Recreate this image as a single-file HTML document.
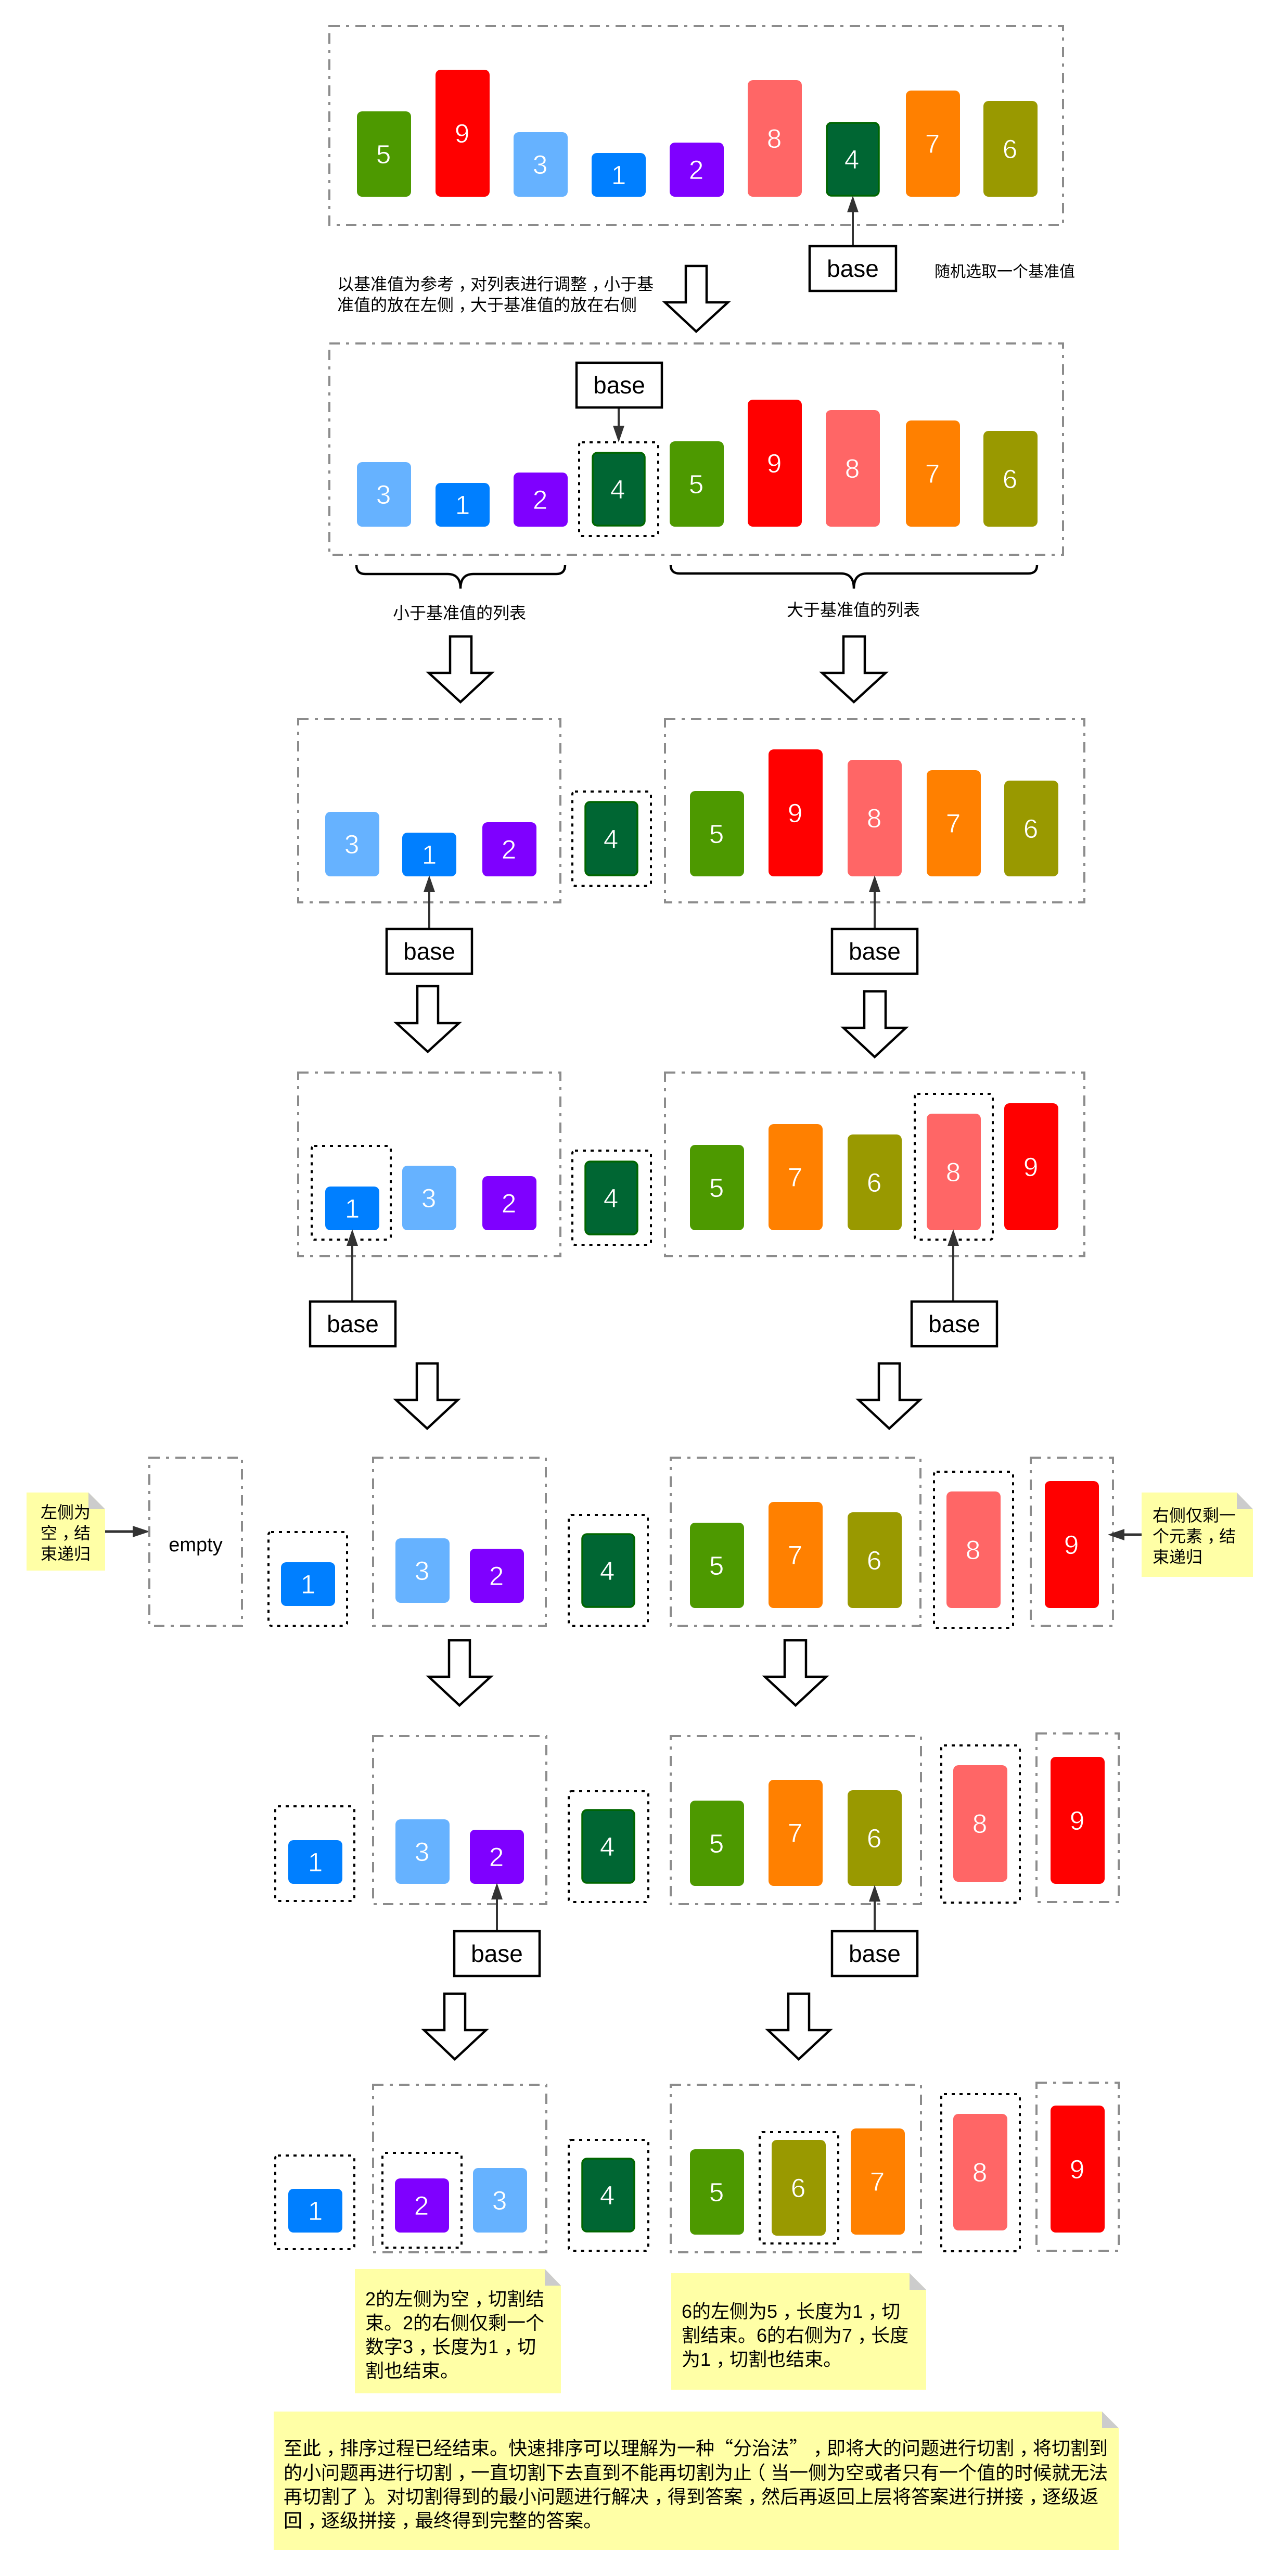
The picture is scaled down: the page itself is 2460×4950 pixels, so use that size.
<!DOCTYPE html>
<html><head><meta charset="utf-8"><style>
html,body{margin:0;padding:0;background:#fff}
svg{display:block}
text{font-family:"Liberation Sans","Noto Sans CJK SC",sans-serif}
.d{font-size:51px;fill:#fff;text-anchor:middle;stroke-width:.7}
.t{font-size:46px;fill:#000;text-anchor:middle}
.s{font-size:32px;fill:#000}
.n{font-size:36px;fill:#000}
.q{font-family:"Noto Sans CJK SC",sans-serif}
.f{fill:none;stroke:#8c8c8c;stroke-width:4;stroke-dasharray:20 12 6 12}
.o{fill:none;stroke:#000;stroke-width:4;stroke-dasharray:6 9}
.g{fill:#4d9900}.r{fill:#f00}.l{fill:#66b2ff}.u{fill:#007fff}.p{fill:#7f00ff}.k{fill:#f66}.y{fill:#ff8000}.v{fill:#990}
.g+text{stroke:#4d9900}.r+text{stroke:#f00}.l+text{stroke:#66b2ff}.u+text{stroke:#007fff}.p+text{stroke:#7f00ff}.k+text{stroke:#f66}.y+text{stroke:#ff8000}.v+text{stroke:#990}.h+text{stroke:#063}
.h{fill:#063;stroke:#060;stroke-width:3.5}
.x{fill:#fff;stroke:#000;stroke-width:4.5}
.a{fill:#fff;stroke:#000;stroke-width:4.5;stroke-miterlimit:10}
.m{stroke:#333;stroke-width:4;fill:none}
.ah{fill:#333}
.ny{fill:#ffffa6}.nf{fill:#ccc}
</style></head><body>
<svg xmlns="http://www.w3.org/2000/svg" width="2460" height="4950" viewBox="0 0 2460 4950">
<rect width="2460" height="4950" fill="#fff"/>

<!-- Row 1 -->
<rect class="f" x="633" y="50" width="1410" height="382"/>
<rect class="g" x="686" y="214" width="104" height="164" rx="10"/><text class="d" x="737" y="314">5</text>
<rect class="r" x="837" y="134" width="104" height="244" rx="10"/><text class="d" x="888" y="274">9</text>
<rect class="l" x="987" y="254" width="104" height="124" rx="10"/><text class="d" x="1038" y="334">3</text>
<rect class="u" x="1137" y="294" width="104" height="84" rx="10"/><text class="d" x="1189" y="354">1</text>
<rect class="p" x="1287" y="274" width="104" height="104" rx="10"/><text class="d" x="1338" y="344">2</text>
<rect class="k" x="1437" y="154" width="104" height="224" rx="10"/><text class="d" x="1488" y="284">8</text>
<rect class="h" x="1589" y="236" width="100" height="140" rx="9"/><text class="d" x="1637" y="324">4</text>
<rect class="y" x="1741" y="174" width="104" height="204" rx="10"/><text class="d" x="1792" y="294">7</text>
<rect class="v" x="1890" y="194" width="104" height="184" rx="10"/><text class="d" x="1941" y="304">6</text>
<line class="m" x1="1639" y1="473" x2="1639" y2="400"/><polygon class="ah" points="1639,376 1650,408 1628,408"/>
<rect class="x" x="1556" y="473" width="166" height="86"/><text class="t" x="1639" y="532">base</text>
<text x="1796" y="532" style="font-size:30px">随机选取一个基准值</text>
<text class="s" x="648" y="557">以基准值为参考<tspan dx="9">，</tspan><tspan dx="-9">对</tspan>列表进行调整<tspan dx="9">，</tspan><tspan dx="-9">小</tspan>于基</text>
<text class="s" x="648" y="597">准值的放在左侧<tspan dx="9">，</tspan><tspan dx="-9">大</tspan>于基准值的放在右侧</text>
<polygon class="a" points="1318,511 1358,511 1358,581 1399,581 1338,637 1278,581 1318,581"/>

<!-- Row 2 -->
<rect class="f" x="633" y="660" width="1410" height="406"/>
<rect class="l" x="686" y="888" width="104" height="124" rx="10"/><text class="d" x="737" y="968">3</text>
<rect class="u" x="837" y="928" width="104" height="84" rx="10"/><text class="d" x="889" y="988">1</text>
<rect class="p" x="987" y="908" width="104" height="104" rx="10"/><text class="d" x="1038" y="978">2</text>
<rect class="o" x="1113" y="850" width="152" height="180" rx="5"/>
<rect class="h" x="1139" y="870" width="100" height="140" rx="9"/><text class="d" x="1187" y="958">4</text>
<rect class="g" x="1287" y="848" width="104" height="164" rx="10"/><text class="d" x="1338" y="948">5</text>
<rect class="r" x="1437" y="768" width="104" height="244" rx="10"/><text class="d" x="1488" y="908">9</text>
<rect class="k" x="1587" y="788" width="104" height="224" rx="10"/><text class="d" x="1638" y="918">8</text>
<rect class="y" x="1741" y="808" width="104" height="204" rx="10"/><text class="d" x="1792" y="928">7</text>
<rect class="v" x="1890" y="828" width="104" height="184" rx="10"/><text class="d" x="1941" y="938">6</text>
<line class="m" x1="1189" y1="784" x2="1189" y2="825"/><polygon class="ah" points="1189,850 1178,818 1200,818"/>
<rect class="x" x="1108" y="697" width="164" height="86"/><text class="t" x="1190" y="756">base</text>
<path d="M685 1086 Q685 1103 702 1103 L860 1103 Q885 1103 885 1131 Q885 1103 910 1103 L1069 1103 Q1086 1103 1086 1086" fill="none" stroke="#000" stroke-width="4.5"/>
<path d="M1289 1086 Q1289 1102 1306 1102 L1616 1102 Q1641 1102 1641 1131 Q1641 1102 1666 1102 L1976 1102 Q1993 1102 1993 1086" fill="none" stroke="#000" stroke-width="4.5"/>
<text class="s" x="755" y="1189">小于基准值的列表</text>
<text class="s" x="1512" y="1183">大于基准值的列表</text>
<polygon class="a" points="865,1223 906,1223 906,1293 945,1293 885,1349 824,1293 865,1293"/>
<polygon class="a" points="1621,1223 1662,1223 1662,1293 1702,1293 1641,1349 1580,1293 1621,1293"/>

<!-- Row 3 -->
<rect class="f" x="573" y="1382" width="504" height="352"/>
<rect class="f" x="1278" y="1382" width="806" height="352"/>
<rect class="l" x="625" y="1560" width="104" height="124" rx="10"/><text class="d" x="676" y="1640">3</text>
<rect class="u" x="773" y="1600" width="104" height="84" rx="10"/><text class="d" x="825" y="1660">1</text>
<rect class="p" x="927" y="1580" width="104" height="104" rx="10"/><text class="d" x="978" y="1650">2</text>
<rect class="o" x="1100" y="1521" width="151" height="181" rx="5"/>
<rect class="h" x="1125" y="1541" width="100" height="141" rx="9"/><text class="d" x="1174" y="1630">4</text>
<rect class="g" x="1326" y="1520" width="104" height="164" rx="10"/><text class="d" x="1377" y="1620">5</text>
<rect class="r" x="1477" y="1440" width="104" height="244" rx="10"/><text class="d" x="1528" y="1580">9</text>
<rect class="k" x="1629" y="1460" width="104" height="224" rx="10"/><text class="d" x="1680" y="1590">8</text>
<rect class="y" x="1781" y="1480" width="104" height="204" rx="10"/><text class="d" x="1832" y="1600">7</text>
<rect class="v" x="1930" y="1500" width="104" height="184" rx="10"/><text class="d" x="1981" y="1610">6</text>
<line class="m" x1="825" y1="1785" x2="825" y2="1705"/><polygon class="ah" points="825,1682 836,1714 814,1714"/>
<line class="m" x1="1681" y1="1785" x2="1681" y2="1705"/><polygon class="ah" points="1681,1682 1692,1714 1670,1714"/>
<rect class="x" x="743" y="1785" width="164" height="86"/><text class="t" x="825" y="1844">base</text>
<rect class="x" x="1599" y="1785" width="164" height="86"/><text class="t" x="1681" y="1844">base</text>
<polygon class="a" points="802,1895 842,1895 842,1966 882,1966 822,2021 762,1966 802,1966"/>
<polygon class="a" points="1661,1905 1702,1905 1702,1975 1741,1975 1681,2031 1621,1975 1661,1975"/>

<!-- Row 4 -->
<rect class="f" x="573" y="2061" width="504" height="353"/>
<rect class="f" x="1278" y="2061" width="806" height="353"/>
<rect class="o" x="599" y="2202" width="152" height="180" rx="5"/>
<rect class="u" x="625" y="2280" width="104" height="84" rx="10"/><text class="d" x="677" y="2340">1</text>
<rect class="l" x="773" y="2240" width="104" height="124" rx="10"/><text class="d" x="824" y="2320">3</text>
<rect class="p" x="927" y="2260" width="104" height="104" rx="10"/><text class="d" x="978" y="2330">2</text>
<rect class="o" x="1100" y="2211" width="151" height="181" rx="5"/>
<rect class="h" x="1125" y="2232" width="100" height="140" rx="9"/><text class="d" x="1174" y="2320">4</text>
<rect class="g" x="1326" y="2200" width="104" height="164" rx="10"/><text class="d" x="1377" y="2300">5</text>
<rect class="y" x="1477" y="2160" width="104" height="204" rx="10"/><text class="d" x="1528" y="2280">7</text>
<rect class="v" x="1629" y="2180" width="104" height="184" rx="10"/><text class="d" x="1680" y="2290">6</text>
<rect class="o" x="1758" y="2102" width="150" height="280" rx="5"/>
<rect class="k" x="1781" y="2140" width="104" height="224" rx="10"/><text class="d" x="1832" y="2270">8</text>
<rect class="r" x="1930" y="2120" width="104" height="244" rx="10"/><text class="d" x="1981" y="2260">9</text>
<line class="m" x1="677" y1="2501" x2="677" y2="2385"/><polygon class="ah" points="677,2362 688,2394 666,2394"/>
<line class="m" x1="1832" y1="2501" x2="1832" y2="2385"/><polygon class="ah" points="1832,2362 1843,2394 1821,2394"/>
<rect class="x" x="596" y="2501" width="164" height="86"/><text class="t" x="678" y="2560">base</text>
<rect class="x" x="1752" y="2501" width="164" height="86"/><text class="t" x="1834" y="2560">base</text>
<polygon class="a" points="801,2620 841,2620 841,2690 880,2690 821,2745 761,2690 801,2690"/>
<polygon class="a" points="1689,2620 1729,2620 1729,2690 1768,2690 1709,2745 1650,2690 1689,2690"/>

<!-- Row 5 -->
<polygon class="ny" points="51,2868 170,2868 202,2900 202,3018 51,3018"/>
<polygon class="nf" points="170,2868 202,2900 170,2900"/>
<text class="s" x="78" y="2917">左侧为</text><text class="s" x="78" y="2957">空<tspan dx="9">，</tspan><tspan dx="-9">结</tspan></text><text class="s" x="78" y="2997">束递归</text>
<line x1="202" y1="2943" x2="262" y2="2943" stroke="#333" stroke-width="5"/><polygon class="ah" points="288,2943 255,2932 255,2954"/>
<rect class="f" x="287" y="2801" width="178" height="323"/>
<text x="376" y="2981" style="font-size:38px;text-anchor:middle">empty</text>
<rect class="o" x="516" y="2944" width="151" height="180" rx="5"/>
<rect class="u" x="540" y="3002" width="104" height="84" rx="10"/><text class="d" x="592" y="3062">1</text>
<rect class="f" x="717" y="2801" width="332" height="323"/>
<rect class="l" x="760" y="2956" width="104" height="124" rx="10"/><text class="d" x="811" y="3036">3</text>
<rect class="p" x="903" y="2976" width="104" height="104" rx="10"/><text class="d" x="954" y="3046">2</text>
<rect class="o" x="1093" y="2911" width="152" height="213" rx="5"/>
<rect class="h" x="1119" y="2948" width="100" height="140" rx="9"/><text class="d" x="1167" y="3036">4</text>
<rect class="f" x="1289" y="2801" width="480" height="323"/>
<rect class="g" x="1326" y="2926" width="104" height="164" rx="10"/><text class="d" x="1377" y="3026">5</text>
<rect class="y" x="1477" y="2886" width="104" height="204" rx="10"/><text class="d" x="1528" y="3006">7</text>
<rect class="v" x="1629" y="2906" width="104" height="184" rx="10"/><text class="d" x="1680" y="3016">6</text>
<rect class="o" x="1795" y="2828" width="152" height="300" rx="5"/>
<rect class="k" x="1819" y="2866" width="104" height="224" rx="10"/><text class="d" x="1870" y="2996">8</text>
<rect class="f" x="1981" y="2801" width="158" height="323"/>
<rect class="r" x="2008" y="2846" width="104" height="244" rx="10"/><text class="d" x="2059" y="2986">9</text>
<polygon class="ny" points="2194,2868 2377,2868 2408,2900 2408,3030 2194,3030"/>
<polygon class="nf" points="2377,2868 2408,2900 2377,2900"/>
<text class="s" x="2215" y="2923">右侧仅剩一</text><text class="s" x="2215" y="2963">个元素<tspan dx="9">，</tspan><tspan dx="-9">结</tspan></text><text class="s" x="2215" y="3003">束递归</text>
<line x1="2194" y1="2949" x2="2155" y2="2949" stroke="#333" stroke-width="5"/><polygon class="ah" points="2129,2949 2161,2938 2161,2960"/>
<polygon class="a" points="863,3152 903,3152 903,3222 943,3222 883,3277 824,3222 863,3222"/>
<polygon class="a" points="1508,3152 1549,3152 1549,3222 1588,3222 1529,3277 1470,3222 1508,3222"/>

<!-- Row 6 -->
<rect class="o" x="529" y="3471" width="152" height="182" rx="5"/>
<rect class="u" x="554" y="3536" width="104" height="84" rx="10"/><text class="d" x="606" y="3596">1</text>
<rect class="f" x="717" y="3336" width="333" height="323"/>
<rect class="l" x="760" y="3496" width="104" height="124" rx="10"/><text class="d" x="811" y="3576">3</text>
<rect class="p" x="903" y="3516" width="104" height="104" rx="10"/><text class="d" x="954" y="3586">2</text>
<rect class="o" x="1093" y="3442" width="153" height="213" rx="5"/>
<rect class="h" x="1119" y="3478" width="100" height="140" rx="9"/><text class="d" x="1167" y="3566">4</text>
<rect class="f" x="1289" y="3336" width="481" height="323"/>
<rect class="g" x="1326" y="3460" width="104" height="164" rx="10"/><text class="d" x="1377" y="3560">5</text>
<rect class="y" x="1477" y="3420" width="104" height="204" rx="10"/><text class="d" x="1528" y="3540">7</text>
<rect class="v" x="1629" y="3440" width="104" height="184" rx="10"/><text class="d" x="1680" y="3550">6</text>
<rect class="o" x="1809" y="3354" width="151" height="302" rx="5"/>
<rect class="k" x="1832" y="3392" width="104" height="224" rx="10"/><text class="d" x="1883" y="3522">8</text>
<rect class="f" x="1992" y="3331" width="158" height="324"/>
<rect class="r" x="2019" y="3376" width="104" height="244" rx="10"/><text class="d" x="2070" y="3516">9</text>
<line class="m" x1="955" y1="3711" x2="955" y2="3640"/><polygon class="ah" points="955,3618 966,3650 944,3650"/>
<line class="m" x1="1681" y1="3711" x2="1681" y2="3645"/><polygon class="ah" points="1681,3622 1692,3654 1670,3654"/>
<rect class="x" x="873" y="3711" width="164" height="86"/><text class="t" x="955" y="3770">base</text>
<rect class="x" x="1599" y="3711" width="164" height="86"/><text class="t" x="1681" y="3770">base</text>
<polygon class="a" points="854,3831 894,3831 894,3901 934,3901 874,3957 815,3901 854,3901"/>
<polygon class="a" points="1515,3831 1555,3831 1555,3901 1595,3901 1535,3957 1476,3901 1515,3901"/>

<!-- Row 7 -->
<rect class="o" x="529" y="4142" width="152" height="180" rx="5"/>
<rect class="u" x="554" y="4206" width="104" height="84" rx="10"/><text class="d" x="606" y="4266">1</text>
<rect class="f" x="717" y="4006" width="333" height="322"/>
<rect class="o" x="735" y="4137" width="152" height="182" rx="5"/>
<rect class="p" x="759" y="4186" width="104" height="104" rx="10"/><text class="d" x="810" y="4256">2</text>
<rect class="l" x="909" y="4166" width="104" height="124" rx="10"/><text class="d" x="960" y="4246">3</text>
<rect class="o" x="1093" y="4112" width="153" height="213" rx="5"/>
<rect class="h" x="1119" y="4148" width="100" height="140" rx="9"/><text class="d" x="1167" y="4236">4</text>
<rect class="f" x="1289" y="4006" width="481" height="322"/>
<rect class="g" x="1326" y="4130" width="104" height="164" rx="10"/><text class="d" x="1377" y="4230">5</text>
<rect class="o" x="1460" y="4097" width="151" height="214" rx="5"/>
<rect class="v" x="1483" y="4112" width="104" height="184" rx="10"/><text class="d" x="1534" y="4222">6</text>
<rect class="y" x="1635" y="4090" width="104" height="204" rx="10"/><text class="d" x="1686" y="4210">7</text>
<rect class="o" x="1809" y="4024" width="151" height="302" rx="5"/>
<rect class="k" x="1832" y="4062" width="104" height="224" rx="10"/><text class="d" x="1883" y="4192">8</text>
<rect class="f" x="1992" y="4002" width="158" height="323"/>
<rect class="r" x="2019" y="4046" width="104" height="244" rx="10"/><text class="d" x="2070" y="4186">9</text>

<!-- Notes -->
<polygon class="ny" points="682,4360 1047,4360 1078,4392 1078,4599 682,4599"/>
<polygon class="nf" points="1047,4360 1078,4392 1047,4392"/>
<text class="n" x="702" y="4430">2的左侧为空<tspan dx="10">，</tspan><tspan dx="-10">切</tspan>割结</text>
<text class="n" x="702" y="4476">束。2的右侧仅剩一个</text>
<text class="n" x="702" y="4522">数字3<tspan dx="10">，</tspan><tspan dx="-10">长</tspan>度为1<tspan dx="10">，</tspan><tspan dx="-10">切</tspan></text>
<text class="n" x="702" y="4568">割也结束。</text>

<polygon class="ny" points="1290,4368 1748,4368 1780,4400 1780,4592 1290,4592"/>
<polygon class="nf" points="1748,4368 1780,4400 1748,4400"/>
<text class="n" x="1310" y="4454">6的左侧为5<tspan dx="10">，</tspan><tspan dx="-10">长</tspan>度为1<tspan dx="10">，</tspan><tspan dx="-10">切</tspan></text>
<text class="n" x="1310" y="4500">割结束。6的右侧为7<tspan dx="10">，</tspan><tspan dx="-10">长</tspan>度</text>
<text class="n" x="1310" y="4546">为1<tspan dx="10">，</tspan><tspan dx="-10">切</tspan>割也结束。</text>

<polygon class="ny" points="526,4634 2118,4634 2150,4666 2150,4900 526,4900"/>
<polygon class="nf" points="2118,4634 2150,4666 2118,4666"/>
<text class="n" x="545" y="4717">至此<tspan dx="10">，</tspan><tspan dx="-10">排</tspan>序过程已经结束。快速排序可以理解为一种</text>
<text class="n q" x="1409" y="4717" text-anchor="end">“</text>
<text class="n" x="1409" y="4717">分治法</text>
<text class="n q" x="1517" y="4717">”</text>
<text class="n" x="1563" y="4717">，</text>
<text class="n" x="1589" y="4717">即将大的问题进行切割<tspan dx="10">，</tspan><tspan dx="-10">将</tspan>切割到</text>
<text class="n" x="545" y="4764">的小问题再进行切割<tspan dx="10">，</tspan><tspan dx="-10">一</tspan>直切割下去直到不能再切割为止<tspan dx="-10">（</tspan><tspan dx="10">当</tspan>一侧为空或者只有一个值的时候就无法</text>
<text class="n" x="545" y="4810">再切割了<tspan dx="10">）</tspan><tspan dx="-10">。</tspan>对切割得到的最小问题进行解决<tspan dx="10">，</tspan><tspan dx="-10">得</tspan>到答案<tspan dx="10">，</tspan><tspan dx="-10">然</tspan>后再返回上层将答案进行拼接<tspan dx="10">，</tspan><tspan dx="-10">逐</tspan>级返</text>
<text class="n" x="545" y="4856">回<tspan dx="10">，</tspan><tspan dx="-10">逐</tspan>级拼接<tspan dx="10">，</tspan><tspan dx="-10">最</tspan>终得到完整的答案。</text>
</svg>
</body></html>
